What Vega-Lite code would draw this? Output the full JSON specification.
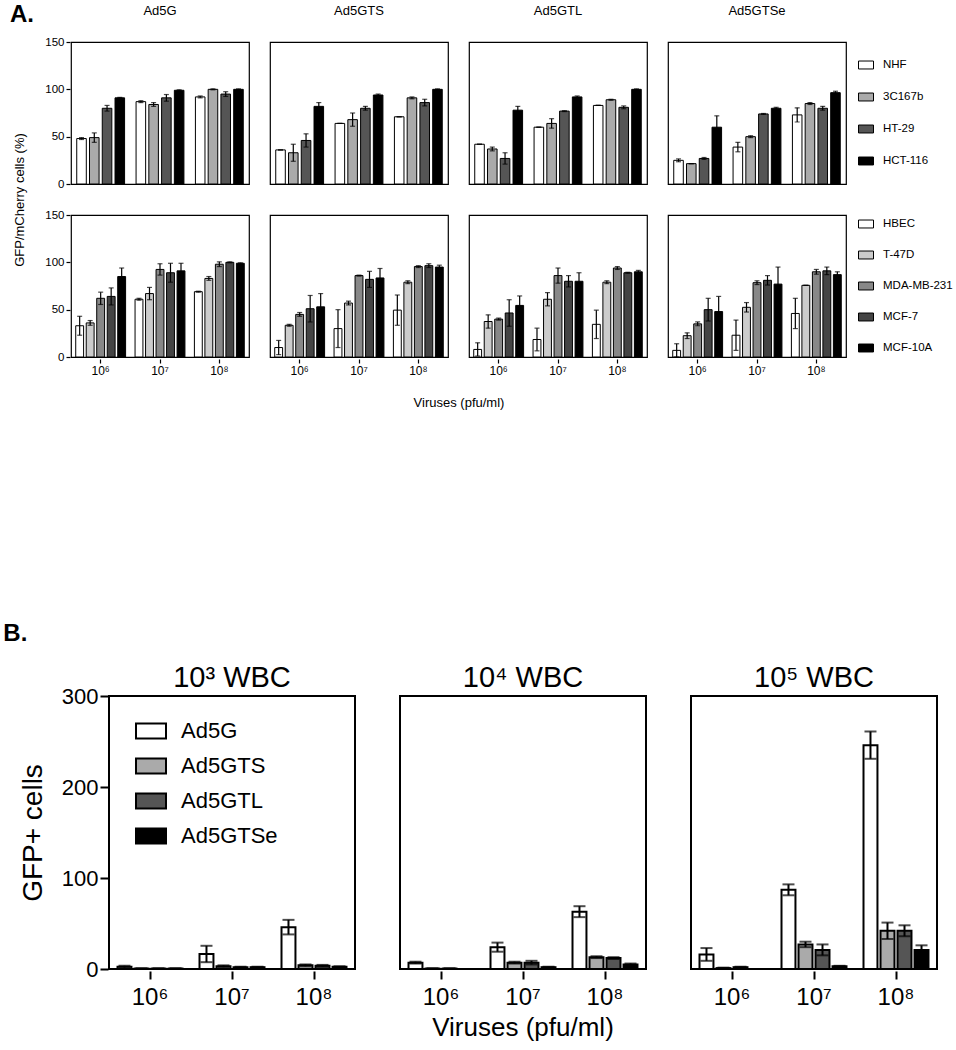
{
"$schema":"https://vega.github.io/schema/vega-lite/v6.json",
"background":"white",
"padding":{"left":3,"top":3,"right":3,"bottom":3},
"config":{
 "font":"Liberation Sans",
 "view":{"stroke":"black","strokeWidth":1.2},
 "axis":{"domainColor":"black","tickColor":"black","labelColor":"black","titleColor":"black","grid":false,"titleFontWeight":"normal","domainWidth":1.2,"tickWidth":1.2},
 "header":{"labelColor":"black","titleColor":"black"},
 "legend":{"labelColor":"black"},
 "title":{"color":"black"}
},
"datasets":{
 "a":[
  {"s":"top","v":"Ad5G","d":"10⁶","c":"NHF","m":48,"e":1},{"s":"top","v":"Ad5G","d":"10⁶","c":"3C167b","m":49,"e":5},{"s":"top","v":"Ad5G","d":"10⁶","c":"HT-29","m":80,"e":3},{"s":"top","v":"Ad5G","d":"10⁶","c":"HCT-116","m":91,"e":0.5},
  {"s":"top","v":"Ad5G","d":"10⁷","c":"NHF","m":87,"e":1},{"s":"top","v":"Ad5G","d":"10⁷","c":"3C167b","m":84,"e":2},{"s":"top","v":"Ad5G","d":"10⁷","c":"HT-29","m":91,"e":3.5},{"s":"top","v":"Ad5G","d":"10⁷","c":"HCT-116","m":99,"e":0.5},
  {"s":"top","v":"Ad5G","d":"10⁸","c":"NHF","m":92,"e":1},{"s":"top","v":"Ad5G","d":"10⁸","c":"3C167b","m":100,"e":0.5},{"s":"top","v":"Ad5G","d":"10⁸","c":"HT-29","m":95,"e":2.5},{"s":"top","v":"Ad5G","d":"10⁸","c":"HCT-116","m":100,"e":0.5},
  {"s":"top","v":"Ad5GTS","d":"10⁶","c":"NHF","m":36,"e":0},{"s":"top","v":"Ad5GTS","d":"10⁶","c":"3C167b","m":33,"e":9},{"s":"top","v":"Ad5GTS","d":"10⁶","c":"HT-29","m":46,"e":7},{"s":"top","v":"Ad5GTS","d":"10⁶","c":"HCT-116","m":82,"e":4},
  {"s":"top","v":"Ad5GTS","d":"10⁷","c":"NHF","m":64,"e":0},{"s":"top","v":"Ad5GTS","d":"10⁷","c":"3C167b","m":68,"e":7},{"s":"top","v":"Ad5GTS","d":"10⁷","c":"HT-29","m":80,"e":2},{"s":"top","v":"Ad5GTS","d":"10⁷","c":"HCT-116","m":94,"e":1},
  {"s":"top","v":"Ad5GTS","d":"10⁸","c":"NHF","m":71,"e":0},{"s":"top","v":"Ad5GTS","d":"10⁸","c":"3C167b","m":91,"e":1},{"s":"top","v":"Ad5GTS","d":"10⁸","c":"HT-29","m":86,"e":3.5},{"s":"top","v":"Ad5GTS","d":"10⁸","c":"HCT-116","m":100,"e":0.5},
  {"s":"top","v":"Ad5GTL","d":"10⁶","c":"NHF","m":42,"e":0},{"s":"top","v":"Ad5GTL","d":"10⁶","c":"3C167b","m":37,"e":2},{"s":"top","v":"Ad5GTL","d":"10⁶","c":"HT-29","m":27,"e":6},{"s":"top","v":"Ad5GTL","d":"10⁶","c":"HCT-116","m":78,"e":4},
  {"s":"top","v":"Ad5GTL","d":"10⁷","c":"NHF","m":60,"e":0},{"s":"top","v":"Ad5GTL","d":"10⁷","c":"3C167b","m":64,"e":5},{"s":"top","v":"Ad5GTL","d":"10⁷","c":"HT-29","m":77,"e":0.5},{"s":"top","v":"Ad5GTL","d":"10⁷","c":"HCT-116","m":92,"e":1},
  {"s":"top","v":"Ad5GTL","d":"10⁸","c":"NHF","m":83,"e":0},{"s":"top","v":"Ad5GTL","d":"10⁸","c":"3C167b","m":89,"e":0.5},{"s":"top","v":"Ad5GTL","d":"10⁸","c":"HT-29","m":81,"e":1.5},{"s":"top","v":"Ad5GTL","d":"10⁸","c":"HCT-116","m":100,"e":0.5},
  {"s":"top","v":"Ad5GTSe","d":"10⁶","c":"NHF","m":25,"e":1.5},{"s":"top","v":"Ad5GTSe","d":"10⁶","c":"3C167b","m":21.5,"e":0},{"s":"top","v":"Ad5GTSe","d":"10⁶","c":"HT-29","m":27,"e":1},{"s":"top","v":"Ad5GTSe","d":"10⁶","c":"HCT-116","m":60,"e":12},
  {"s":"top","v":"Ad5GTSe","d":"10⁷","c":"NHF","m":39,"e":5},{"s":"top","v":"Ad5GTSe","d":"10⁷","c":"3C167b","m":50,"e":1},{"s":"top","v":"Ad5GTSe","d":"10⁷","c":"HT-29","m":74,"e":0.5},{"s":"top","v":"Ad5GTSe","d":"10⁷","c":"HCT-116","m":80,"e":1},
  {"s":"top","v":"Ad5GTSe","d":"10⁸","c":"NHF","m":73,"e":7.5},{"s":"top","v":"Ad5GTSe","d":"10⁸","c":"3C167b","m":85,"e":1},{"s":"top","v":"Ad5GTSe","d":"10⁸","c":"HT-29","m":80,"e":2},{"s":"top","v":"Ad5GTSe","d":"10⁸","c":"HCT-116","m":96.5,"e":1.5},
  {"s":"bottom","v":"Ad5G","d":"10⁶","c":"HBEC","m":33,"e":10},{"s":"bottom","v":"Ad5G","d":"10⁶","c":"T-47D","m":36,"e":2.5},{"s":"bottom","v":"Ad5G","d":"10⁶","c":"MDA-MB-231","m":62,"e":6.5},{"s":"bottom","v":"Ad5G","d":"10⁶","c":"MCF-7","m":64,"e":9},{"s":"bottom","v":"Ad5G","d":"10⁶","c":"MCF-10A","m":85,"e":9},
  {"s":"bottom","v":"Ad5G","d":"10⁷","c":"HBEC","m":61,"e":1},{"s":"bottom","v":"Ad5G","d":"10⁷","c":"T-47D","m":67,"e":6.5},{"s":"bottom","v":"Ad5G","d":"10⁷","c":"MDA-MB-231","m":92.5,"e":6},{"s":"bottom","v":"Ad5G","d":"10⁷","c":"MCF-7","m":89,"e":10},{"s":"bottom","v":"Ad5G","d":"10⁷","c":"MCF-10A","m":91,"e":8},
  {"s":"bottom","v":"Ad5G","d":"10⁸","c":"HBEC","m":69,"e":0.5},{"s":"bottom","v":"Ad5G","d":"10⁸","c":"T-47D","m":83,"e":2},{"s":"bottom","v":"Ad5G","d":"10⁸","c":"MDA-MB-231","m":98,"e":2.5},{"s":"bottom","v":"Ad5G","d":"10⁸","c":"MCF-7","m":100,"e":0.5},{"s":"bottom","v":"Ad5G","d":"10⁸","c":"MCF-10A","m":99,"e":0.5},
  {"s":"bottom","v":"Ad5GTS","d":"10⁶","c":"HBEC","m":10,"e":7.5},{"s":"bottom","v":"Ad5GTS","d":"10⁶","c":"T-47D","m":33.5,"e":1},{"s":"bottom","v":"Ad5GTS","d":"10⁶","c":"MDA-MB-231","m":45,"e":2},{"s":"bottom","v":"Ad5GTS","d":"10⁶","c":"MCF-7","m":51,"e":14},{"s":"bottom","v":"Ad5GTS","d":"10⁶","c":"MCF-10A","m":53,"e":14},
  {"s":"bottom","v":"Ad5GTS","d":"10⁷","c":"HBEC","m":30,"e":20},{"s":"bottom","v":"Ad5GTS","d":"10⁷","c":"T-47D","m":57,"e":2},{"s":"bottom","v":"Ad5GTS","d":"10⁷","c":"MDA-MB-231","m":86,"e":0.5},{"s":"bottom","v":"Ad5GTS","d":"10⁷","c":"MCF-7","m":82,"e":8.5},{"s":"bottom","v":"Ad5GTS","d":"10⁷","c":"MCF-10A","m":83.5,"e":10},
  {"s":"bottom","v":"Ad5GTS","d":"10⁸","c":"HBEC","m":49.5,"e":16},{"s":"bottom","v":"Ad5GTS","d":"10⁸","c":"T-47D","m":79,"e":1.5},{"s":"bottom","v":"Ad5GTS","d":"10⁸","c":"MDA-MB-231","m":95.5,"e":1},{"s":"bottom","v":"Ad5GTS","d":"10⁸","c":"MCF-7","m":96.5,"e":2},{"s":"bottom","v":"Ad5GTS","d":"10⁸","c":"MCF-10A","m":95,"e":2},
  {"s":"bottom","v":"Ad5GTL","d":"10⁶","c":"HBEC","m":8,"e":7},{"s":"bottom","v":"Ad5GTL","d":"10⁶","c":"T-47D","m":37.5,"e":7},{"s":"bottom","v":"Ad5GTL","d":"10⁶","c":"MDA-MB-231","m":40,"e":1},{"s":"bottom","v":"Ad5GTL","d":"10⁶","c":"MCF-7","m":46.5,"e":14},{"s":"bottom","v":"Ad5GTL","d":"10⁶","c":"MCF-10A","m":54.5,"e":10},
  {"s":"bottom","v":"Ad5GTL","d":"10⁷","c":"HBEC","m":18.5,"e":12},{"s":"bottom","v":"Ad5GTL","d":"10⁷","c":"T-47D","m":61,"e":7},{"s":"bottom","v":"Ad5GTL","d":"10⁷","c":"MDA-MB-231","m":86,"e":8},{"s":"bottom","v":"Ad5GTL","d":"10⁷","c":"MCF-7","m":80,"e":6},{"s":"bottom","v":"Ad5GTL","d":"10⁷","c":"MCF-10A","m":80,"e":9},
  {"s":"bottom","v":"Ad5GTL","d":"10⁸","c":"HBEC","m":34.5,"e":15},{"s":"bottom","v":"Ad5GTL","d":"10⁸","c":"T-47D","m":79,"e":1.5},{"s":"bottom","v":"Ad5GTL","d":"10⁸","c":"MDA-MB-231","m":94,"e":1.5},{"s":"bottom","v":"Ad5GTL","d":"10⁸","c":"MCF-7","m":89,"e":0.5},{"s":"bottom","v":"Ad5GTL","d":"10⁸","c":"MCF-10A","m":90,"e":1.5},
  {"s":"bottom","v":"Ad5GTSe","d":"10⁶","c":"HBEC","m":7,"e":7},{"s":"bottom","v":"Ad5GTSe","d":"10⁶","c":"T-47D","m":22.5,"e":3},{"s":"bottom","v":"Ad5GTSe","d":"10⁶","c":"MDA-MB-231","m":35,"e":2},{"s":"bottom","v":"Ad5GTSe","d":"10⁶","c":"MCF-7","m":50,"e":12},{"s":"bottom","v":"Ad5GTSe","d":"10⁶","c":"MCF-10A","m":48,"e":16},
  {"s":"bottom","v":"Ad5GTSe","d":"10⁷","c":"HBEC","m":23,"e":16},{"s":"bottom","v":"Ad5GTSe","d":"10⁷","c":"T-47D","m":52.5,"e":5},{"s":"bottom","v":"Ad5GTSe","d":"10⁷","c":"MDA-MB-231","m":78.5,"e":2},{"s":"bottom","v":"Ad5GTSe","d":"10⁷","c":"MCF-7","m":81,"e":5},{"s":"bottom","v":"Ad5GTSe","d":"10⁷","c":"MCF-10A","m":77,"e":18},
  {"s":"bottom","v":"Ad5GTSe","d":"10⁸","c":"HBEC","m":46,"e":16},{"s":"bottom","v":"Ad5GTSe","d":"10⁸","c":"T-47D","m":75.7,"e":0},{"s":"bottom","v":"Ad5GTSe","d":"10⁸","c":"MDA-MB-231","m":90,"e":2.5},{"s":"bottom","v":"Ad5GTSe","d":"10⁸","c":"MCF-7","m":91,"e":4},{"s":"bottom","v":"Ad5GTSe","d":"10⁸","c":"MCF-10A","m":87,"e":3}
 ],
 "b":[
  {"w":"10³ WBC","d":"10⁶","v":"Ad5G","m":2.5,"e":1},{"w":"10³ WBC","d":"10⁶","v":"Ad5GTS","m":0.5,"e":0},{"w":"10³ WBC","d":"10⁶","v":"Ad5GTL","m":0.5,"e":0},{"w":"10³ WBC","d":"10⁶","v":"Ad5GTSe","m":0.5,"e":0},
  {"w":"10³ WBC","d":"10⁷","v":"Ad5G","m":16.5,"e":9},{"w":"10³ WBC","d":"10⁷","v":"Ad5GTS","m":3,"e":1},{"w":"10³ WBC","d":"10⁷","v":"Ad5GTL","m":2,"e":0.5},{"w":"10³ WBC","d":"10⁷","v":"Ad5GTSe","m":2,"e":0.5},
  {"w":"10³ WBC","d":"10⁸","v":"Ad5G","m":46,"e":8},{"w":"10³ WBC","d":"10⁸","v":"Ad5GTS","m":4,"e":1},{"w":"10³ WBC","d":"10⁸","v":"Ad5GTL","m":3.5,"e":1},{"w":"10³ WBC","d":"10⁸","v":"Ad5GTSe","m":2.5,"e":0.5},
  {"w":"10⁴ WBC","d":"10⁶","v":"Ad5G","m":7,"e":1},{"w":"10⁴ WBC","d":"10⁶","v":"Ad5GTS","m":0.5,"e":0},{"w":"10⁴ WBC","d":"10⁶","v":"Ad5GTL","m":0.5,"e":0},{"w":"10⁴ WBC","d":"10⁶","v":"Ad5GTSe","m":0,"e":0},
  {"w":"10⁴ WBC","d":"10⁷","v":"Ad5G","m":24,"e":5},{"w":"10⁴ WBC","d":"10⁷","v":"Ad5GTS","m":7,"e":1},{"w":"10⁴ WBC","d":"10⁷","v":"Ad5GTL","m":7,"e":2},{"w":"10⁴ WBC","d":"10⁷","v":"Ad5GTSe","m":2,"e":0.5},
  {"w":"10⁴ WBC","d":"10⁸","v":"Ad5G","m":63,"e":6},{"w":"10⁴ WBC","d":"10⁸","v":"Ad5GTS","m":13,"e":1},{"w":"10⁴ WBC","d":"10⁸","v":"Ad5GTL","m":12,"e":1},{"w":"10⁴ WBC","d":"10⁸","v":"Ad5GTSe","m":5,"e":1},
  {"w":"10⁵ WBC","d":"10⁶","v":"Ad5G","m":16,"e":7},{"w":"10⁵ WBC","d":"10⁶","v":"Ad5GTS","m":1,"e":0.5},{"w":"10⁵ WBC","d":"10⁶","v":"Ad5GTL","m":2,"e":0.5},{"w":"10⁵ WBC","d":"10⁶","v":"Ad5GTSe","m":0,"e":0},
  {"w":"10⁵ WBC","d":"10⁷","v":"Ad5G","m":87,"e":6},{"w":"10⁵ WBC","d":"10⁷","v":"Ad5GTS","m":27,"e":3},{"w":"10⁵ WBC","d":"10⁷","v":"Ad5GTL","m":21,"e":6},{"w":"10⁵ WBC","d":"10⁷","v":"Ad5GTSe","m":3,"e":0.5},
  {"w":"10⁵ WBC","d":"10⁸","v":"Ad5G","m":246,"e":15},{"w":"10⁵ WBC","d":"10⁸","v":"Ad5GTS","m":42,"e":9},{"w":"10⁵ WBC","d":"10⁸","v":"Ad5GTL","m":42,"e":6},{"w":"10⁵ WBC","d":"10⁸","v":"Ad5GTSe","m":21,"e":5}
 ]
},
"resolve":{"scale":{"fill":"independent","color":"independent","xOffset":"independent"},"legend":{"fill":"independent","color":"independent"}},
"columns":1,
"center":true,
"spacing":212,
"concat":[
 {"data":{"name":"a"},
  "title":{"text":"A.","anchor":"start","fontSize":24,"fontWeight":"bold","offset":-22,"dx":-4},
  "facet":{
   "row":{"field":"s","type":"nominal","sort":["top","bottom"],"title":"GFP/mCherry cells (%)","header":{"labels":false,"titleFontSize":13,"titleFontWeight":"normal","titlePadding":7}},
   "column":{"field":"v","type":"nominal","sort":["Ad5G","Ad5GTS","Ad5GTL","Ad5GTSe"],"title":"Viruses (pfu/ml)","header":{"labelFontSize":13,"labelPadding":23,"titleOrient":"bottom","titleFontSize":13,"titleFontWeight":"normal","titlePadding":11}}
  },
  "spacing":{"row":28,"column":19},
  "resolve":{"scale":{"xOffset":"independent"}},
  "spec":{
   "width":178,"height":142,
   "encoding":{
    "x":{"field":"d","type":"nominal","sort":["10⁶","10⁷","10⁸"],"scale":{"paddingInner":0,"paddingOuter":0},"axis":{"title":null,"labelFontSize":12,"labelAngle":0,"tickSize":4,"labelPadding":2,"domain":false}},
    "xOffset":{"field":"c","type":"nominal","sort":["NHF","3C167b","HT-29","HCT-116","HBEC","T-47D","MDA-MB-231","MCF-7","MCF-10A"],"scale":{"paddingInner":0.25,"paddingOuter":0.45}},
    "y":{"field":"m","type":"quantitative","scale":{"domain":[0,150]},"axis":{"title":null,"values":[0,50,100,150],"labelFontSize":11.5,"tickSize":4,"labelPadding":2,"domain":false}}
   },
   "layer":[
    {"transform":[{"filter":"datum.s === 'top'"}],
     "mark":{"type":"bar","stroke":"black","strokeWidth":1},
     "encoding":{"color":{"field":"c","type":"nominal","scale":{"domain":["NHF","3C167b","HT-29","HCT-116"],"range":["#ffffff","#aaaaaa","#555555","#000000"]},
      "legend":{"title":null,"orient":"none","legendX":764,"legendY":-8,"padding":23,"labelFontSize":11.5,"symbolType":"M-1,-0.53H1V0.53H-1Z","symbolSize":225,"symbolStrokeColor":"black","symbolStrokeWidth":1,"rowPadding":18,"labelOffset":9}}}},
    {"transform":[{"filter":"datum.s === 'bottom'"}],
     "mark":{"type":"bar","stroke":"black","strokeWidth":1},
     "encoding":{"fill":{"field":"c","type":"nominal","scale":{"domain":["HBEC","T-47D","MDA-MB-231","MCF-7","MCF-10A"],"range":["#ffffff","#cccccc","#888888","#444444","#000000"]},
      "legend":{"title":null,"orient":"none","legendX":764,"legendY":151,"padding":23,"labelFontSize":11.5,"symbolType":"M-1,-0.53H1V0.53H-1Z","symbolSize":225,"symbolStrokeColor":"black","symbolStrokeWidth":1,"rowPadding":17,"labelOffset":9}}}},
    {"mark":{"type":"errorbar","ticks":{"size":5,"thickness":1.2},"rule":{"strokeWidth":1.2},"color":"black"},
     "encoding":{"yError":{"field":"e"}}}
   ]
  }
 },
 {"data":{"name":"b"},
  "title":{"text":"B.","anchor":"start","fontSize":24,"fontWeight":"bold","offset":18,"dx":-16},
  "facet":{"column":{"field":"w","type":"nominal","sort":["10³ WBC","10⁴ WBC","10⁵ WBC"],"title":"Viruses (pfu/ml)","header":{"labelFontSize":29,"labelPadding":2,"titleOrient":"bottom","titleFontSize":26,"titleFontWeight":"normal","titlePadding":-4}}},
  "spacing":43,
  "spec":{
   "width":246,"height":273,
   "view":{"stroke":"black","strokeWidth":2},
   "encoding":{
    "x":{"field":"d","type":"nominal","sort":["10⁶","10⁷","10⁸"],"scale":{"paddingInner":0,"paddingOuter":0},"axis":{"title":null,"labelFontSize":24,"labelAngle":0,"tickSize":8,"tickWidth":2,"labelPadding":6,"domain":false}},
    "xOffset":{"field":"v","type":"nominal","sort":["Ad5G","Ad5GTS","Ad5GTL","Ad5GTSe"],"scale":{"paddingInner":0.18,"paddingOuter":0.5}},
    "y":{"field":"m","type":"quantitative","scale":{"domain":[0,300]},"axis":{"title":"GFP+ cells","titleFontSize":28,"titlePadding":14,"values":[0,100,200,300],"labelFontSize":22,"tickSize":8,"tickWidth":2,"labelPadding":2,"domain":false}}
   },
   "layer":[
    {"mark":{"type":"bar","stroke":"black","strokeWidth":2},
     "encoding":{"fill":{"field":"v","type":"nominal","scale":{"domain":["Ad5G","Ad5GTS","Ad5GTL","Ad5GTSe"],"range":["#ffffff","#aaaaaa","#555555","#000000"]},
      "legend":{"title":null,"orient":"none","legendX":26,"legendY":19,"padding":0,"labelFontSize":22,"symbolType":"M-1,-0.5H1V0.5H-1Z","symbolSize":900,"symbolStrokeColor":"black","symbolStrokeWidth":2,"rowPadding":7,"labelOffset":14}}}},
    {"mark":{"type":"errorbar","ticks":{"size":12,"thickness":2},"rule":{"strokeWidth":2},"color":"black"},
     "encoding":{"yError":{"field":"e"}}}
   ]
  }
 }
]
}
